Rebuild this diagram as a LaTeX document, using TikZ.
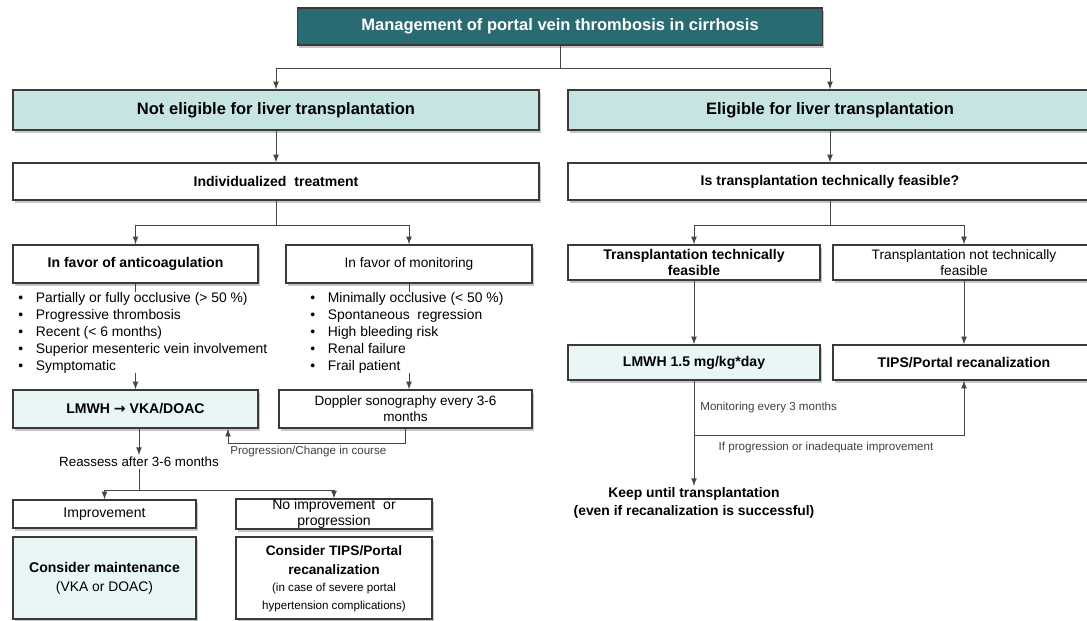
\documentclass[tikz,border=0pt]{standalone}
\usepackage{fontspec}
\setmainfont{Liberation Sans}
\newfontfamily\arrowfont{DejaVu Sans}
\usetikzlibrary{arrows,shadows,positioning,calc}

\definecolor{darkteal}{HTML}{2A6B72}
\definecolor{lightteal}{HTML}{C6E4E2}
\definecolor{paleteal}{HTML}{E8F6F6}
\definecolor{boxline}{HTML}{3A3A3A}
\definecolor{linegray}{HTML}{454545}

\tikzset{
  box/.style={draw=boxline, line width=0.9pt, fill=white, align=center, inner sep=1pt,
    drop shadow={shadow xshift=0.9pt, shadow yshift=-1.6pt, opacity=0.45}},
  titlebox/.style={box, fill=darkteal, text=white, font=\fontsize{9.4}{11}\selectfont\bfseries},
  headbox/.style={box, fill=lightteal, font=\fontsize{9.4}{11}\selectfont\bfseries},
  stepbox/.style={box, font=\fontsize{8}{9.4}\selectfont\bfseries},
  plainbox/.style={box, font=\fontsize{7.8}{9.2}\selectfont},
  bullets/.style={align=left, fill=white, inner sep=0pt, font=\fontsize{7.9}{9.7}\selectfont},
  note/.style={inner sep=0pt, text=black!75, font=\fontsize{6.6}{8}\selectfont},
  conn/.style={draw=linegray, line width=0.5pt, -latex},
  line/.style={draw=linegray, line width=0.5pt}
}
\newcommand{\itm}{\makebox[10pt][l]{\textbullet}}

\begin{document}
\begin{tikzpicture}[x=0.02cm, y=-0.02cm]
\useasboundingbox (0,0) rectangle (1087,620);

% top
\node[titlebox, minimum width=10.5cm, minimum height=0.74cm] (title) at (560,26.5) {Management of portal vein thrombosis in cirrhosis};
\node[headbox, minimum width=10.52cm, minimum height=0.8cm] (notel) at (276,110) {Not eligible for liver transplantation};
\node[headbox, minimum width=10.48cm, minimum height=0.8cm] (elig) at (830,110) {Eligible for liver transplantation};
\coordinate (split0) at (560,68);
\draw[line] (title.south) -- (split0);
\draw[conn] (split0) -| (notel.north);
\draw[conn] (split0) -| (elig.north);

% not eligible
\node[stepbox, minimum width=10.52cm, minimum height=0.74cm] (indiv) at (276,181.5) {Individualized\ \ treatment};
\node[stepbox, minimum width=4.9cm, minimum height=0.76cm] (anti) at (135.5,264) {In favor of anticoagulation};
\node[plainbox, minimum width=4.92cm, minimum height=0.76cm] (moni) at (409,264) {In favor of monitoring};
\node[stepbox, fill=paleteal, minimum width=4.9cm, minimum height=0.76cm] (lmwhL) at (135.5,409) {LMWH {\arrowfont\bfseries →} VKA/DOAC};
\node[plainbox, font=\fontsize{7.7}{9.2}\selectfont, minimum width=5.06cm, minimum height=0.76cm] (dopp) at (405.5,409) {Doppler sonography every 3-6\\months};
\draw[conn] (notel.south) -- (indiv.north);
\coordinate (split1) at (276,225);
\draw[line] (indiv.south) -- (split1);
\draw[conn] (split1) -| (anti.north);
\draw[conn] (split1) -| (moni.north);
\draw[conn] (anti.south) -- (lmwhL.north);
\draw[conn] (moni.south) -- (moni.south |- dopp.north);

\node[bullets, anchor=north west] (critA) at (18,292) {\itm Partially or fully occlusive (> 50 \%)\\ \itm Progressive thrombosis\\ \itm Recent (< 6 months)\\ \itm Superior mesenteric vein involvement\\ \itm Symptomatic};
\node[bullets, anchor=north west] (critM) at (310,292) {\itm Minimally occlusive (< 50 \%)\\ \itm Spontaneous\ \ regression\\ \itm High bleeding risk\\ \itm Renal failure\\ \itm Frail patient};

\coordinate (back) at (228,443);
\draw[conn] (dopp.south) |- (back) -- (back |- lmwhL.south);
\node[note, anchor=north west] (backlbl) at (230,446) {Progression/Change in course};

\node[inner sep=1pt, font=\fontsize{7.6}{9}\selectfont] (reass) at (139,462) {Reassess after 3-6 months};
\draw[conn] (lmwhL.south -| reass.north) -- (reass.north);
\node[plainbox, font=\fontsize{8}{9.4}\selectfont, minimum width=3.66cm, minimum height=0.56cm] (impr) at (104.5,514) {Improvement};
\node[plainbox, font=\fontsize{8}{9.4}\selectfont, inner sep=0pt, minimum width=3.92cm, minimum height=0.56cm] (noimpr) at (334,514) {No improvement\ \ or\\progression};
\coordinate (split2) at (139,490);
\draw[line] (reass.south) -- (split2);
\draw[conn] (split2) -| (impr.north);
\draw[conn] (split2) -| (noimpr.north);
\node[box, fill=paleteal, minimum width=3.66cm, minimum height=1.64cm] (maint) at (104.5,578)
  {\begin{tabular}{@{}c@{}}\fontsize{8}{10}\selectfont\bfseries Consider maintenance\\[-1pt] \fontsize{7.9}{10}\selectfont (VKA or DOAC)\end{tabular}};
\node[box, minimum width=3.92cm, minimum height=1.64cm] (tipsL) at (334,578)
  {\begin{tabular}{@{}c@{}}\fontsize{7.8}{10}\selectfont\bfseries Consider TIPS/Portal\\[-1pt] \fontsize{7.8}{10}\selectfont\bfseries recanalization\\[-2pt] \fontsize{6.6}{8}\selectfont (in case of severe portal\\[-2pt] \fontsize{6.6}{8}\selectfont hypertension complications)\end{tabular}};

% eligible
\node[stepbox, minimum width=10.48cm, minimum height=0.74cm] (feas) at (830,181.5) {Is transplantation\ technically\ feasible?};
\node[stepbox, minimum width=5.04cm, minimum height=0.7cm] (tfeas) at (694,262.5) {Transplantation\ technically\\feasible};
\node[plainbox, minimum width=5.24cm, minimum height=0.7cm] (tnot) at (964,262.5) {Transplantation\ not\ technically\\feasible};
\node[stepbox, fill=paleteal, minimum width=5.04cm, minimum height=0.7cm] (lmwhR) at (694,362.5) {LMWH 1.5 mg/kg*day};
\node[stepbox, minimum width=5.24cm, minimum height=0.7cm] (tipsR) at (964,362.5) {TIPS/Portal recanalization};
\draw[conn] (elig.south) -- (feas.north);
\coordinate (split3) at (830,225);
\draw[line] (feas.south) -- (split3);
\draw[conn] (split3) -| (tfeas.north);
\draw[conn] (split3) -| (tnot.north);
\draw[conn] (tfeas.south) -- (lmwhR.north);
\draw[conn] (tnot.south) -- (tipsR.north);

\node[align=center, inner sep=1pt, font=\fontsize{7.9}{9.8}\selectfont\bfseries] (keep) at (694,503) {Keep until transplantation\\(even if recanalization\ is successful)};
\draw[conn] (lmwhR.south) -- (keep.north);
\node[note, anchor=west] (monlbl) at (700,407) {Monitoring every 3 months};
\coordinate (fail) at (694,435);
\draw[conn] (fail) -| (tipsR.south);
\node[note] (faillbl) at (826,447) {If progression or inadequate\ improvement};
\end{tikzpicture}
\end{document}
